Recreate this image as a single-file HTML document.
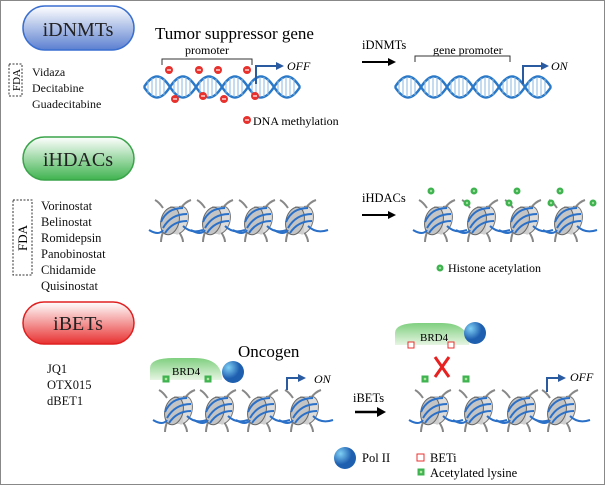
<!DOCTYPE html><html><head><style>body{margin:0;background:#fff}svg{display:block}text{font-family:"Liberation Serif",serif}</style></head><body>
<svg width="605" height="485" viewBox="0 0 605 485" xmlns="http://www.w3.org/2000/svg">
<defs>
<linearGradient id="gb" x1="0" y1="0" x2="0" y2="1"><stop offset="0" stop-color="#fff"/><stop offset="1" stop-color="#5b7fd0"/></linearGradient>
<linearGradient id="gg" x1="0" y1="0" x2="0" y2="1"><stop offset="0" stop-color="#fff"/><stop offset="1" stop-color="#3fb34f"/></linearGradient>
<linearGradient id="gr" x1="0" y1="0" x2="0" y2="1"><stop offset="0" stop-color="#fff"/><stop offset="1" stop-color="#e83030"/></linearGradient>
<linearGradient id="gbrd" x1="0" y1="0" x2="0" y2="1"><stop offset="0" stop-color="#7fcf7f"/><stop offset="1" stop-color="#e6f5e2"/></linearGradient>
<radialGradient id="pol" cx="0.3" cy="0.3"><stop offset="0" stop-color="#7fd0f5"/><stop offset="1" stop-color="#1f5fb0"/></radialGradient>
<g id="nuc">
<path d="M-10,-12 q-4,-6 -8,-8" stroke="#888" stroke-width="2" fill="none"/>
<path d="M8,-12 q4,-6 10,-8" stroke="#888" stroke-width="2" fill="none"/>
<path d="M-10,12 q-2,6 -2,10" stroke="#888" stroke-width="2" fill="none"/>
<path d="M6,12 q4,6 4,10" stroke="#888" stroke-width="2" fill="none"/>
<ellipse cx="6" cy="0" rx="9" ry="14" transform="rotate(15 6 0)" fill="#dcdcdc" stroke="#777"/>
<path d="M-3,-14 L6,-14 L6,14 L-3,14z" fill="#cfcfcf"/>
<ellipse cx="-3" cy="1" rx="9" ry="14" transform="rotate(15 -3 1)" fill="#c4c4c4" stroke="#666"/>
<path d="M-12,2 q6,-14 22,-14 M-10,8 q8,-14 24,-14 M-8,13 q8,-12 22,-12" stroke="#2a70c8" stroke-width="2" fill="none"/>
<path d="M-24,10 q10,6 14,0 M10,6 q8,8 20,4" stroke="#2a70c8" stroke-width="2" fill="none"/>
</g>
<g id="helix">
<path d="M0,0 c9,-14 17,-14 26,0 s17,14 26,0 s17,-14 26,0 s17,14 26,0 s17,-14 26,0 s17,14 26,0" stroke="#2a78c8" stroke-width="2.5" fill="none"/>
<path d="M0,0 c9,14 17,14 26,0 s17,-14 26,0 s17,14 26,0 s17,-14 26,0 s17,14 26,0 s17,-14 26,0" stroke="#2a78c8" stroke-width="2.5" fill="none"/>
<g stroke="#8ab8e0" stroke-width="1">
<path d="M4,-6v12M8,-9v18M12,-10v20M16,-10v20M20,-8v16"/>
<path d="M30,-6v12M34,-9v18M38,-10v20M42,-10v20M46,-8v16"/>
<path d="M56,-6v12M60,-9v18M64,-10v20M68,-10v20M72,-8v16"/>
<path d="M82,-6v12M86,-9v18M90,-10v20M94,-10v20M98,-8v16"/>
<path d="M108,-6v12M112,-9v18M116,-10v20M120,-10v20M124,-8v16"/>
<path d="M134,-6v12M138,-9v18M142,-10v20M146,-10v20M150,-8v16"/>
</g>
</g>
<g id="me"><circle r="4" fill="#e8302c"/><rect x="-2" y="-0.6" width="4" height="1.2" fill="#fff"/></g>
<g id="ac"><circle r="3.5" fill="#3fb34f"/><circle r="1.2" fill="#9fe09f"/></g>
<g id="sq"><rect x="-3.5" y="-3.5" width="7" height="7" fill="#3fb34f"/><rect x="-1.2" y="-1.2" width="2.4" height="2.4" fill="#b0e8a0"/></g>
</defs>
<rect x="0.5" y="0.5" width="604" height="484" fill="#fff" stroke="#888"/>
<!-- pills -->
<rect x="23" y="6" width="111" height="44" rx="22" fill="url(#gb)" stroke="#3a6fd0" stroke-width="1.5"/>
<text x="78" y="36" font-size="20" text-anchor="middle" fill="#222">iDNMTs</text>
<rect x="23" y="137" width="111" height="43" rx="21.5" fill="url(#gg)" stroke="#3aa44a" stroke-width="1.5"/>
<text x="78" y="166" font-size="20" text-anchor="middle" fill="#222">iHDACs</text>
<rect x="23" y="302" width="111" height="42" rx="21" fill="url(#gr)" stroke="#e02020" stroke-width="1.5"/>
<text x="78" y="330" font-size="20" text-anchor="middle" fill="#222">iBETs</text>
<!-- drugs -->
<rect x="9" y="64" width="13" height="32" stroke="#333" stroke-dasharray="2,1.5" fill="none"/>
<text transform="translate(20 80) rotate(-90)" font-size="11" text-anchor="middle">FDA</text>
<g font-size="12" fill="#111"><text x="32" y="76">Vidaza</text><text x="32" y="92">Decitabine</text><text x="32" y="108">Guadecitabine</text></g>
<rect x="13" y="200" width="19" height="75" stroke="#333" stroke-dasharray="2,1.5" fill="none"/>
<text transform="translate(27 238) rotate(-90)" font-size="13" text-anchor="middle">FDA</text>
<g font-size="12.5" fill="#111"><text x="41" y="210">Vorinostat</text><text x="41" y="226">Belinostat</text><text x="41" y="242">Romidepsin</text><text x="41" y="258">Panobinostat</text><text x="41" y="274">Chidamide</text><text x="41" y="290">Quisinostat</text></g>
<g font-size="12.5" fill="#111"><text x="47" y="373">JQ1</text><text x="47" y="389">OTX015</text><text x="47" y="405">dBET1</text></g>
<!-- row 1 -->
<text x="155" y="39" font-size="17">Tumor suppressor gene</text>
<text x="185" y="54" font-size="12">promoter</text>
<path d="M162,65 v-6 h90 v6" stroke="#333" fill="none"/>
<use href="#helix" x="144" y="87"/>
<path d="M256,84 v-18 h22" stroke="#2a5aa0" stroke-width="2" fill="none"/><path d="M276,62 l8,4 l-8,4z" fill="#2a5aa0"/>
<text x="287" y="70" font-size="12" font-style="italic">OFF</text>
<use href="#me" x="169" y="70"/><use href="#me" x="199" y="70"/><use href="#me" x="218" y="70"/><use href="#me" x="247" y="70"/>
<use href="#me" x="175" y="99"/><use href="#me" x="203" y="96"/><use href="#me" x="224" y="99"/><use href="#me" x="255" y="96"/>
<use href="#me" x="247" y="120"/><text x="253" y="125" font-size="12">DNA methylation</text>
<text x="362" y="49" font-size="12.5">iDNMTs</text>
<path d="M362,62 h28" stroke="#000" stroke-width="2"/><path d="M388,58 l8,4 l-8,4z"/>
<text x="433" y="54" font-size="12">gene promoter</text>
<path d="M415,62 v-6 h95 v6" stroke="#333" fill="none"/>
<use href="#helix" x="395" y="87"/>
<path d="M523,84 v-18 h20" stroke="#2a5aa0" stroke-width="2" fill="none"/><path d="M541,62 l8,4 l-8,4z" fill="#2a5aa0"/>
<text x="551" y="70" font-size="12" font-style="italic">ON</text>
<!-- row 2 -->
<use href="#nuc" x="173" y="220"/><use href="#nuc" x="215" y="220"/><use href="#nuc" x="257" y="220"/><use href="#nuc" x="298" y="220"/>
<text x="362" y="202" font-size="12.5">iHDACs</text>
<path d="M362,215 h28" stroke="#000" stroke-width="2"/><path d="M388,211 l8,4 l-8,4z"/>
<use href="#nuc" x="437" y="220"/><use href="#nuc" x="480" y="220"/><use href="#nuc" x="523" y="220"/><use href="#nuc" x="567" y="220"/>
<use href="#ac" x="431" y="191"/><use href="#ac" x="467" y="203"/><use href="#ac" x="474" y="191"/><use href="#ac" x="509" y="203"/><use href="#ac" x="517" y="191"/><use href="#ac" x="551" y="203"/><use href="#ac" x="560" y="191"/><use href="#ac" x="593" y="203"/>
<use href="#ac" x="440" y="268"/><text x="448" y="272" font-size="12">Histone acetylation</text>
<!-- row 3 left -->
<path d="M150,380 v-12 q0,-10 24,-10 h20 q28,0 28,22z" fill="url(#gbrd)"/>
<text x="172" y="375" font-size="11">BRD4</text>
<circle cx="233" cy="372" r="11" fill="url(#pol)"/>
<text x="238" y="357" font-size="17">Oncogen</text>
<use href="#nuc" x="177" y="410"/><use href="#nuc" x="218" y="410"/><use href="#nuc" x="260" y="410"/><use href="#nuc" x="303" y="410"/>
<use href="#sq" x="166" y="379"/><use href="#sq" x="208" y="379"/>
<path d="M287,390 v-12 h12" stroke="#2a5aa0" stroke-width="2" fill="none"/><path d="M298,374 l8,4 l-8,4z" fill="#2a5aa0"/>
<text x="314" y="383" font-size="12" font-style="italic">ON</text>
<!-- arrow -->
<text x="353" y="402" font-size="12.5">iBETs</text>
<path d="M355,412 h24" stroke="#000" stroke-width="2.5"/><path d="M377,407 l9,5 l-9,5z"/>
<!-- row 3 right -->
<path d="M395,345 v-12 q0,-10 24,-10 h22 q28,0 28,22z" fill="url(#gbrd)"/>
<text x="420" y="341" font-size="11">BRD4</text>
<circle cx="475" cy="333" r="11" fill="url(#pol)"/>
<rect x="408" y="342" width="6" height="6" fill="#fff" stroke="#e83030"/><rect x="448" y="342" width="6" height="6" fill="#fff" stroke="#e83030"/>
<path d="M435,357 L449,377 M449,357 L435,377" stroke="#e82020" stroke-width="3"/>
<use href="#nuc" x="433" y="410"/><use href="#nuc" x="477" y="410"/><use href="#nuc" x="520" y="410"/><use href="#nuc" x="560" y="410"/>
<use href="#sq" x="425" y="379"/><use href="#sq" x="466" y="379"/>
<path d="M547,392 v-14 h12" stroke="#2a5aa0" stroke-width="2" fill="none"/><path d="M558,374 l8,4 l-8,4z" fill="#2a5aa0"/>
<text x="570" y="381" font-size="12" font-style="italic">OFF</text>
<!-- legend -->
<circle cx="345" cy="458" r="11" fill="url(#pol)"/><text x="362" y="462" font-size="12.5">Pol II</text>
<rect x="417" y="454" width="7" height="7" fill="#fff" stroke="#e83030"/><text x="430" y="462" font-size="12.5">BETi</text>
<use href="#sq" x="421" y="472"/><text x="430" y="477" font-size="12.5">Acetylated lysine</text>
</svg></body></html>
